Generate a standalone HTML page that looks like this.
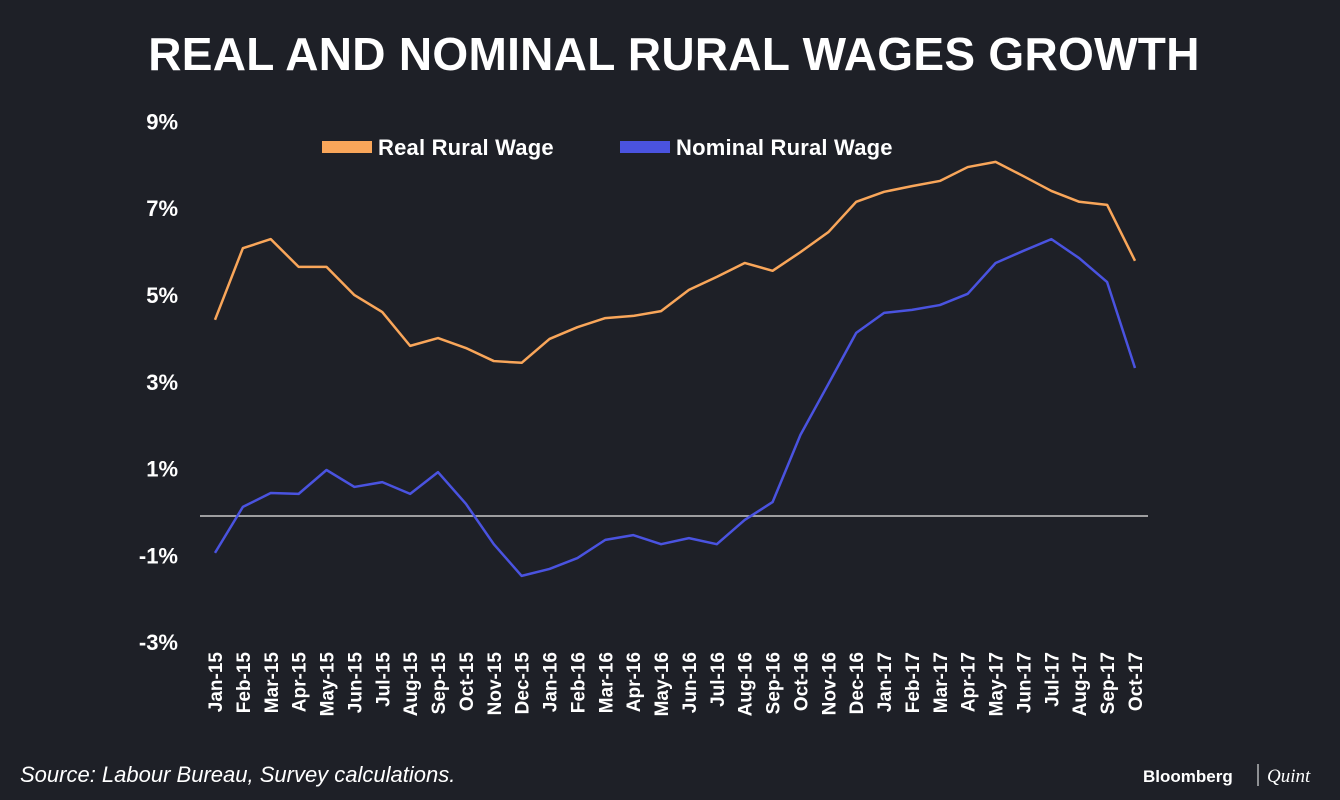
<!DOCTYPE html>
<html><head><meta charset="utf-8"><style>
body{margin:0;background:#1e2027;}
svg{display:block;font-family:"Liberation Sans",sans-serif;}
</style></head><body>
<svg id="c" width="1340" height="800" viewBox="0 0 1340 800">
<rect width="1340" height="800" fill="#1e2027"/>
<text x="674" y="70" text-anchor="middle" fill="#fff" font-size="46" font-weight="bold" letter-spacing="0.3">REAL AND NOMINAL RURAL WAGES GROWTH</text>
<g>
<rect x="322" y="141" width="50" height="12" fill="#f9a65a"/>
<text x="378" y="155" fill="#fff" font-size="22" font-weight="bold" letter-spacing="0.2">Real Rural Wage</text>
<rect x="620" y="141" width="50" height="12" fill="#4a53e0"/>
<text x="676" y="155" fill="#fff" font-size="22" font-weight="bold" letter-spacing="0.2">Nominal Rural Wage</text>
</g>
<g id="yax"></g>
<g id="xax"></g>
<line x1="200" x2="1148" y1="516" y2="516" stroke="#c8c8c8" stroke-width="1.5"/>
<g id="series"></g>
<text x="20" y="782" fill="#fff" font-size="22" font-style="italic">Source: Labour Bureau, Survey calculations.</text>
<text x="1143" y="782" fill="#fff" font-size="17" font-weight="bold">Bloomberg</text>
<line x1="1258" x2="1258" y1="764" y2="786" stroke="#fff" stroke-width="1"/>
<text x="1267" y="782" fill="#fff" font-size="19" font-style="italic" font-family="Liberation Serif,serif">Quint</text>
</svg>
<script>
const categories=["Jan-15","Feb-15","Mar-15","Apr-15","May-15","Jun-15","Jul-15","Aug-15","Sep-15","Oct-15","Nov-15","Dec-15","Jan-16","Feb-16","Mar-16","Apr-16","May-16","Jun-16","Jul-16","Aug-16","Sep-16","Oct-16","Nov-16","Dec-16","Jan-17","Feb-17","Mar-17","Apr-17","May-17","Jun-17","Jul-17","Aug-17","Sep-17","Oct-17"];
const realWage=[4.52,6.17,6.38,5.74,5.74,5.09,4.70,3.92,4.10,3.87,3.57,3.53,4.08,4.35,4.56,4.61,4.72,5.21,5.51,5.83,5.65,6.08,6.54,7.24,7.47,7.60,7.72,8.04,8.16,7.83,7.49,7.24,7.17,5.88];
const nominalWage=[-0.85,0.21,0.53,0.51,1.06,0.67,0.78,0.51,1.01,0.28,-0.65,-1.38,-1.22,-0.97,-0.55,-0.44,-0.65,-0.51,-0.65,-0.09,0.32,1.87,3.04,4.22,4.68,4.75,4.86,5.12,5.83,6.11,6.38,5.94,5.39,3.41];
const yTicks=[9,7,5,3,1,-1,-3];
const yTickLabels=["9%","7%","5%","3%","1%","-1%","-3%"];
const NS="http://www.w3.org/2000/svg";
function xs(i){return 215+i*(1135-215)/(categories.length-1);}
function ys(v){return 516-v*43.4;}
const yax=document.getElementById('yax');
yTicks.forEach((t,i)=>{
 const e=document.createElementNS(NS,'text');
 
 
 e.setAttribute('x',178);e.setAttribute('y',ys(t)+4);
 e.setAttribute('text-anchor','end');e.setAttribute('fill','#fff');
 e.setAttribute('font-size','22');e.setAttribute('font-weight','bold');
 e.textContent=yTickLabels[i];yax.appendChild(e);
});
const xax=document.getElementById('xax');
categories.forEach((c,i)=>{
 const e=document.createElementNS(NS,'text');
 
 
 const x=xs(i)+7;
 e.setAttribute('transform','translate('+x+',652) rotate(-90)');
 e.setAttribute('text-anchor','end');e.setAttribute('fill','#fff');
 e.setAttribute('font-size','19');e.setAttribute('font-weight','bold');
 e.textContent=c;xax.appendChild(e);
});
const g=document.getElementById('series');
function line(vals,color,name){
 const p=document.createElementNS(NS,'polyline');
 
 
 p.setAttribute('points',vals.map((v,i)=>xs(i)+','+ys(v)).join(' '));
 p.setAttribute('fill','none');p.setAttribute('stroke',color);
 p.setAttribute('stroke-width','2.5');p.setAttribute('stroke-linejoin','round');
 g.appendChild(p);
}
line(realWage,'#f9a65a','real-wage-line');
line(nominalWage,'#4a53e0','nominal-wage-line');
</script>
</body></html>
